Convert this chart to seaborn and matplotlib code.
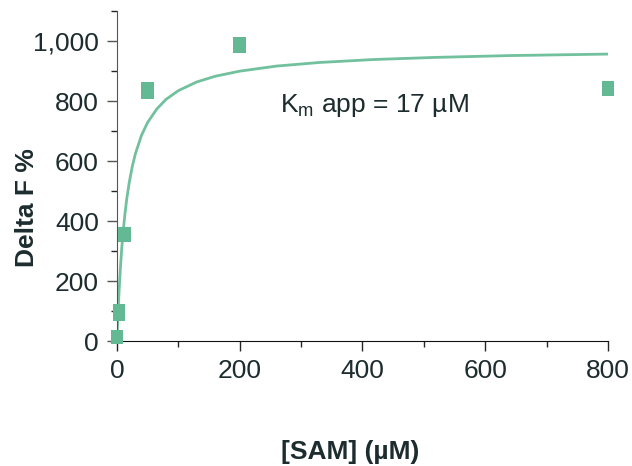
import matplotlib
matplotlib.use("Agg")
import matplotlib.pyplot as plt
import seaborn as sns
import pandas as pd
from matplotlib.ticker import MultipleLocator, StrMethodFormatter

# measured points (duplicates)
sam_conc = [0, 0, 3, 3, 12.5, 12.5, 50, 50, 200, 200, 800, 800]
delta_f = [10, 15, 103, 87, 360, 350, 843, 827, 993, 980, 845, 838]

# fitted curve
fit_x = [0, 1, 2, 4, 6, 8, 10, 13, 16, 20, 25, 30, 40, 50, 65, 80, 100,
         130, 160, 200, 260, 330, 420, 520, 640, 800]
fit_y = [0, 54, 103, 186, 255, 313, 362, 423, 474, 528, 582, 624, 686, 729,
         774, 806, 835, 864, 883, 900, 917, 929, 939, 946, 952, 957]

pts = pd.DataFrame({"x": sam_conc, "y": delta_f})
fit = pd.DataFrame({"x": fit_x, "y": fit_y})

sns.set_style("ticks")
plt.rcParams["font.family"] = ["Liberation Sans", "DejaVu Sans"]

green = "#62b994"
txt = "#1d2c2e"

fig = plt.figure(figsize=(6.32, 4.66), dpi=100)
ax = fig.add_axes([0.185, 0.268, 0.777, 0.708])

sns.lineplot(data=fit, x="x", y="y", ax=ax, color=green, lw=2, alpha=0.9)
sns.scatterplot(data=pts, x="x", y="y", ax=ax, marker="s", s=80,
                color=green, edgecolor="none", clip_on=False, zorder=5)

ax.set_xlim(0, 800)
ax.set_ylim(0, 1100)
ax.xaxis.set_major_locator(MultipleLocator(200))
ax.xaxis.set_minor_locator(MultipleLocator(100))
ax.yaxis.set_major_locator(MultipleLocator(200))
ax.yaxis.set_minor_locator(MultipleLocator(100))
ax.yaxis.set_major_formatter(StrMethodFormatter("{x:,.0f}"))
ax.set_yticks([0, 200, 400, 600, 800, 1000])

for s in ["top", "right"]:
    ax.spines[s].set_visible(False)
ax.spines["left"].set_color("#555555")
ax.spines["bottom"].set_color("#111111")
ax.tick_params(which="major", length=7, width=1, labelsize=19,
               labelcolor=txt, pad=6)
ax.tick_params(which="minor", length=4, width=1)
ax.tick_params(axis="y", colors="#555555", labelcolor=txt)

ax.set_xlabel("")
ax.set_ylabel("")
fig.text(0.042, 0.555, "Delta F %", rotation=90, ha="center", va="center",
         fontsize=19, fontweight="bold", color=txt)
fig.text(0.554, 0.03, "[SAM] (\u00b5M)", ha="center", va="center",
         fontsize=19, fontweight="bold", color=txt)
ax.text(265, 785, "$\\mathregular{K_m}$ app = 17 \u00b5M",
        fontsize=19, color=txt, va="center")

fig.savefig("out.png", dpi=100)
